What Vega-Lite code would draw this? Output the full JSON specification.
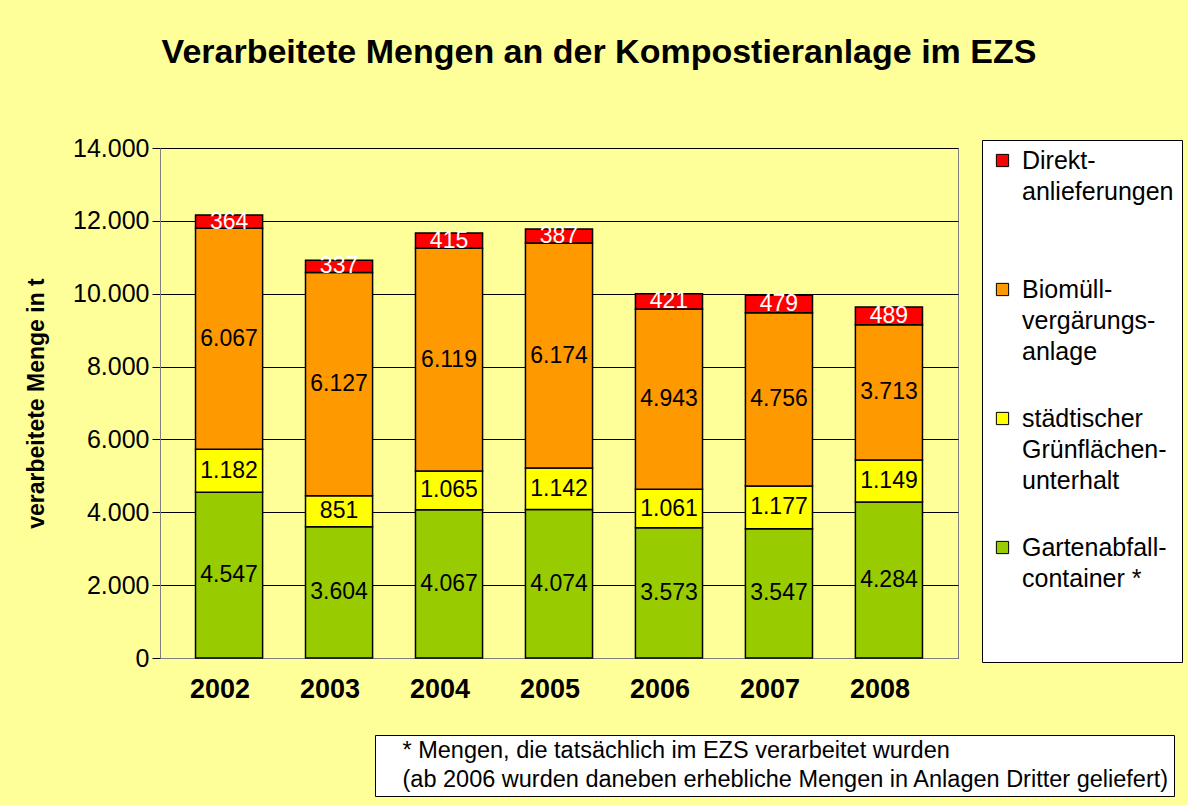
{
  "$schema": "https://vega.github.io/schema/vega-lite/v6.json",
  "autosize": {"type": "none"},
  "width": 798,
  "height": 510,
  "padding": {"left": 160, "top": 148, "right": 230, "bottom": 147},
  "background": "#FFFF99",
  "title": {
    "text": "Verarbeitete Mengen an der Kompostieranlage im EZS",
    "anchor": "middle",
    "frame": "group",
    "dx": 40,
    "offset": 66,
    "fontSize": 34,
    "fontWeight": "bold",
    "color": "black",
    "font": "Liberation Sans"
  },
  "config": {
    "font": "Liberation Sans",
    "locale": {"number": {"decimal": ",", "thousands": ".", "grouping": [3], "currency": ["", " €"]}},
    "view": {"fill": "white", "stroke": "#808080"}
  },
  "layer": [
    {
      "data": {
        "values": [
          {"Jahr": "2002", "Garten": 4547, "Gruen": 1182, "Bio": 6067, "Direkt": 364},
          {"Jahr": "2003", "Garten": 3604, "Gruen": 851, "Bio": 6127, "Direkt": 337},
          {"Jahr": "2004", "Garten": 4067, "Gruen": 1065, "Bio": 6119, "Direkt": 415},
          {"Jahr": "2005", "Garten": 4074, "Gruen": 1142, "Bio": 6174, "Direkt": 387},
          {"Jahr": "2006", "Garten": 3573, "Gruen": 1061, "Bio": 4943, "Direkt": 421},
          {"Jahr": "2007", "Garten": 3547, "Gruen": 1177, "Bio": 4756, "Direkt": 479},
          {"Jahr": "2008", "Garten": 4284, "Gruen": 1149, "Bio": 3713, "Direkt": 489}
        ]
      },
      "transform": [
        {"fold": ["Garten", "Gruen", "Bio", "Direkt"], "as": ["Kategorie", "Menge"]},
        {"stack": "Menge", "groupby": ["Jahr"], "as": ["u0", "u1"]}
      ],
      "layer": [
        {
          "mark": {"type": "bar", "stroke": "black", "strokeWidth": 1.5},
          "encoding": {
            "x": {
              "field": "Jahr",
              "type": "nominal",
              "scale": {"paddingInner": 0.39, "paddingOuter": 0.323},
              "axis": {
                "title": null,
                "labelAngle": 0,
                "labelFontSize": 27,
                "labelFontWeight": "bold",
                "labelColor": "black",
                "labelPadding": 18,
                "labelOffset": -9,
                "ticks": false,
                "domainColor": "#808080"
              }
            },
            "y": {
              "field": "u0",
              "type": "quantitative",
              "scale": {"domain": [0, 14000], "nice": false},
              "axis": {
                "title": "verarbeitete Menge in t",
                "titleFontSize": 23,
                "titleFontWeight": "bold",
                "titleColor": "black",
                "titlePadding": 24,
                "values": [0, 2000, 4000, 6000, 8000, 10000, 12000, 14000],
                "format": ",d",
                "labelFontSize": 25,
                "labelColor": "black",
                "labelPadding": 3,
                "tickColor": "black",
                "tickSize": 8,
                "domainColor": "#808080",
                "grid": true,
                "gridColor": "black",
                "gridOpacity": 1
              }
            },
            "y2": {"field": "u1"},
            "color": {
              "field": "Kategorie",
              "type": "nominal",
              "scale": {
                "domain": ["Direkt", "Bio", "Gruen", "Garten"],
                "range": ["#FF0000", "#FF9900", "#FFFF00", "#99CC00"]
              },
              "legend": {
                "orient": "none",
                "legendX": 822,
                "legendY": -8,
                "title": null,
                "fillColor": "white",
                "strokeColor": "black",
                "padding": 8,
                "symbolType": "square",
                "symbolSize": 150,
                "symbolStrokeColor": "black",
                "symbolStrokeWidth": 1,
                "labelFontSize": 25,
                "labelColor": "black",
                "labelBaseline": "top",
                "labelOffset": 7,
                "labelLimit": 300,
                "gridAlign": "all",
                "rowPadding": 10,
                "labelExpr": "datum.value == 'Direkt' ? ['Direkt-','anlieferungen'] : datum.value == 'Bio' ? ['Biomüll-','vergärungs-','anlage'] : datum.value == 'Gruen' ? ['städtischer','Grünflächen-','unterhalt'] : ['Gartenabfall-','container *','','']",
                "encode": {
                  "labels": {"update": {"lineHeight": {"value": 31}, "dy": {"value": -12}}}
                }
              }
            }
          }
        },
        {
          "transform": [
            {"fold": ["u0", "u1"], "as": ["Rand", "Pos"]},
            {"aggregate": [{"op": "mean", "field": "Pos", "as": "Mitte"}], "groupby": ["Jahr", "Kategorie", "Menge"]}
          ],
          "mark": {"type": "text", "fontSize": 23, "baseline": "middle", "align": "center"},
          "encoding": {
            "x": {"field": "Jahr", "type": "nominal"},
            "y": {"field": "Mitte", "type": "quantitative"},
            "text": {"field": "Menge", "type": "quantitative", "format": ",d"},
            "color": {
              "condition": {"test": "datum.Kategorie == 'Direkt'", "value": "white"},
              "value": "black"
            }
          }
        }
      ]
    },
    {
      "data": {
        "values": [
          {"Hinweis": "* Mengen, die tatsächlich im EZS verarbeitet wurden"},
          {"Hinweis": "(ab 2006 wurden daneben erhebliche Mengen in Anlagen Dritter geliefert)"}
        ]
      },
      "mark": {"type": "point", "opacity": 0},
      "encoding": {
        "shape": {
          "field": "Hinweis",
          "type": "nominal",
          "scale": {
            "domain": [
              "* Mengen, die tatsächlich im EZS verarbeitet wurden",
              "(ab 2006 wurden daneben erhebliche Mengen in Anlagen Dritter geliefert)"
            ],
            "range": ["circle", "circle"]
          },
          "legend": {
            "orient": "none",
            "legendX": 215,
            "legendY": 587,
            "title": null,
            "fillColor": "white",
            "strokeColor": "black",
            "padding": 4,
            "symbolSize": 1,
            "symbolOpacity": 0,
            "symbolStrokeWidth": 0,
            "labelOffset": 0,
            "labelFontSize": 23.5,
            "labelColor": "black",
            "labelLimit": 900,
            "rowPadding": 4
          }
        }
      }
    }
  ]
}
